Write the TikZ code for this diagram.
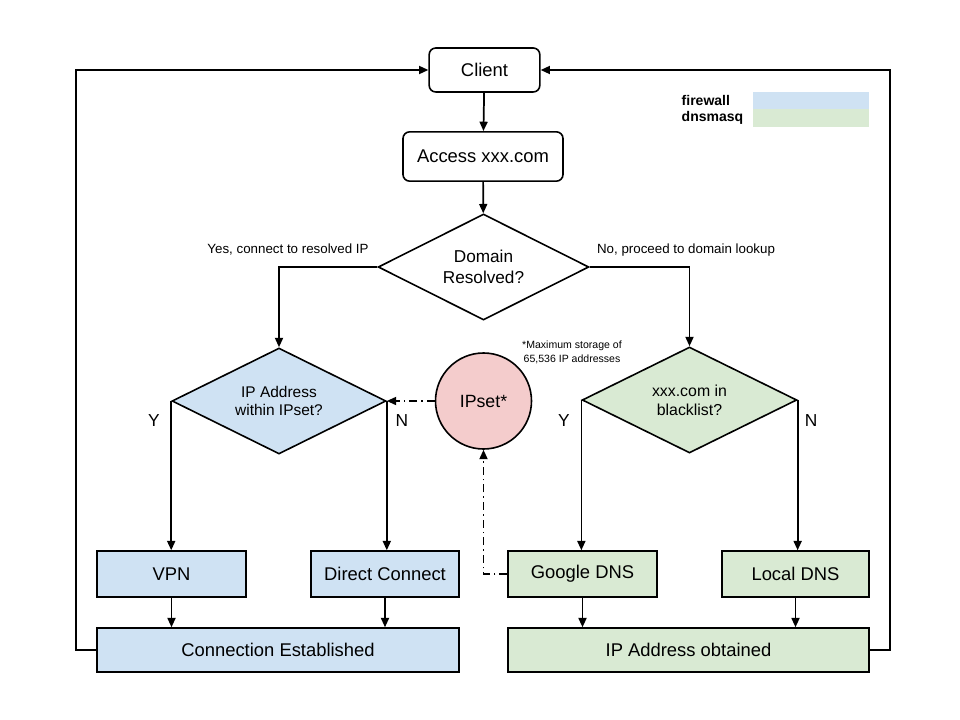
\documentclass[tikz,border=0pt]{standalone}
\usepackage{fontspec}
\setmainfont{Liberation Sans}
\usetikzlibrary{shapes.geometric,arrows.meta}
\definecolor{fwblue}{HTML}{CFE2F3}
\definecolor{dngreen}{HTML}{D9EAD3}
\definecolor{ipred}{HTML}{F4CCCC}
\tikzset{
  px/.style={x=0.75pt,y=-0.75pt},
  rbox/.style={draw,line width=1.2pt,rounded corners=5pt,inner sep=0pt,font=\fontsize{13.8}{16}\selectfont},
  sbox/.style={draw,line width=1.1pt,inner sep=0pt,font=\fontsize{13.8}{16}\selectfont},
  dia/.style={draw,diamond,aspect=2,line width=1.2pt,inner sep=0pt,align=center},
  arr/.style={line width=1.3pt,-{Triangle[length=7pt,width=6pt]}},
  ddarr/.style={line width=1.3pt,dash pattern=on 6pt off 3pt on 1.2pt off 3pt,-{Triangle[length=7pt,width=6pt]}},
  lbl/.style={font=\fontsize{10}{12}\selectfont},
  yn/.style={font=\fontsize{13}{15}\selectfont},
}
\begin{document}
\begin{tikzpicture}[px]
\useasboundingbox (0,0) rectangle (960,720);
% nodes
\node[rbox,minimum width=83pt,minimum height=33pt] (client) at (484.5,70) {Client};
\node[rbox,minimum width=120pt,minimum height=37pt] (access) at (483,156.5) {Access xxx.com};
\node[dia,minimum width=158pt,minimum height=79.5pt,font=\fontsize{12.9}{16}\selectfont] (dom) at (483.5,267) {Domain\\Resolved?};
\node[dia,fill=fwblue,minimum width=160.5pt,minimum height=79.5pt,font=\fontsize{11.6}{14}\selectfont] (ipd) at (279,401) {IP Address\\within IPset?};
\node[circle,draw,fill=ipred,line width=1.2pt,minimum size=72pt,inner sep=0pt,font=\fontsize{13.3}{16}\selectfont] (ipset) at (483.5,401) {IPset*};
\node[dia,fill=dngreen,minimum width=161pt,minimum height=79.5pt,font=\fontsize{11.9}{14}\selectfont] (bl) at (689.5,400) {xxx.com in\\blacklist?};
\node[sbox,fill=fwblue,minimum width=111.5pt,minimum height=34.5pt] (vpn) at (171.5,574) {VPN};
\node[sbox,fill=fwblue,minimum width=111pt,minimum height=34.5pt] (dc) at (385,574) {Direct Connect};
\node[sbox,fill=dngreen,minimum width=111.5pt,minimum height=34.5pt] (gdns) at (582.5,574) {Google DNS};
\node[sbox,fill=dngreen,minimum width=110.5pt,minimum height=34.5pt] (ldns) at (795.5,574) {Local DNS};
\node[sbox,fill=fwblue,minimum width=271.5pt,minimum height=33pt] (conn) at (278,650) {Connection Established};
\node[sbox,fill=dngreen,minimum width=270.5pt,minimum height=33pt] (ipo) at (688.5,650) {IP Address obtained};
% legend
\node[anchor=west,font=\fontsize{10.5}{12}\bfseries] (lfw) at (677,100.5) {firewall};
\node[anchor=west,font=\fontsize{10.5}{12}\bfseries] (ldn) at (677,117.5) {dnsmasq};
\fill[fwblue] (753,92) rectangle (869,109.5);
\fill[dngreen] (753,109.5) rectangle (869,127);
% labels
\node[lbl] (lyes) at (288,250) {Yes, connect to resolved IP};
\node[lbl] (lno) at (686,250) {No, proceed to domain lookup};
\node[align=center,font=\fontsize{7.9}{10}\selectfont] (note) at (572,352.5) {*Maximum storage of\\65,536 IP addresses};
\node[yn] (y1) at (154,421) {Y};
\node[yn] (n1) at (402,421) {N};
\node[yn] (y2) at (564,421) {Y};
\node[yn] (n2) at (811,421) {N};
% coordinates for loops
\coordinate (lc) at (76,360);
\coordinate (rc) at (890,360);
% connectors
\draw[arr] (client) -- (access);
\draw[arr] (access) -- (dom);
\draw[arr] (dom.west) -| (ipd.north);
\draw[arr] (dom.east) -| (bl.north);
\draw[arr] (ipd.west) -- (ipd.west |- vpn.north);
\draw[arr] (ipd.east) -- (ipd.east |- dc.north);
\draw[arr] (bl.west) -- (bl.west |- gdns.north);
\draw[arr] (bl.east) -- (bl.east |- ldns.north);
\draw[arr] (vpn.south) -- (vpn.south |- conn.north);
\draw[arr] (dc.south) -- (dc.south |- conn.north);
\draw[arr] (gdns.south) -- (gdns.south |- ipo.north);
\draw[arr] (ldns.south) -- (ldns.south |- ipo.north);
\draw[arr] (conn.west) -| (lc) |- (client.west);
\draw[arr] (ipo.east) -| (rc) |- (client.east);
\draw[ddarr] (ipset.west) -- (ipd.east);
\draw[ddarr] (gdns.west) -| (ipset.south);
\end{tikzpicture}
\end{document}
